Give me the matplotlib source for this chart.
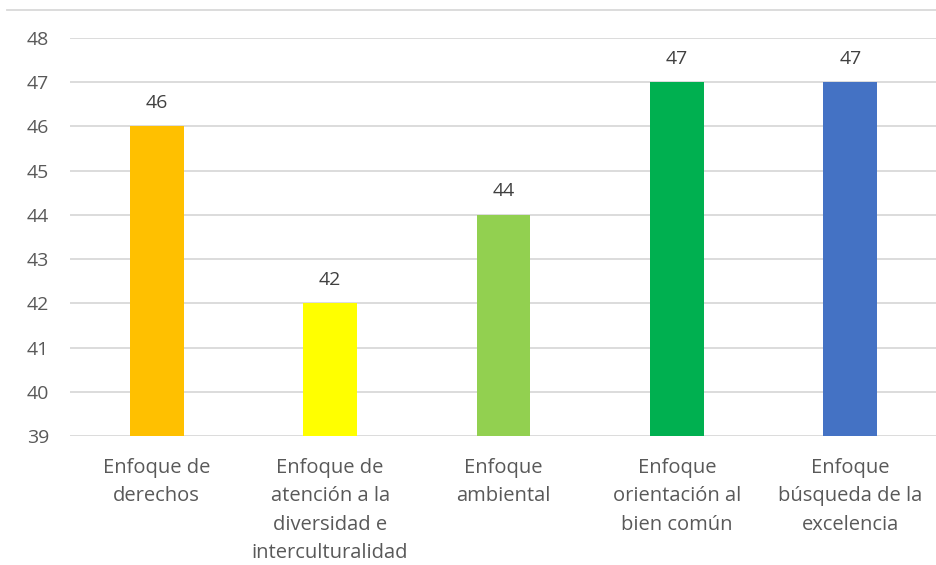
import matplotlib.pyplot as plt
from matplotlib.lines import Line2D

categories = ['Enfoque de\nderechos',
              'Enfoque de\natención a la\ndiversidad e\ninterculturalidad',
              'Enfoque\nambiental',
              'Enfoque\norientación al\nbien común',
              'Enfoque\nbúsqueda de la\nexcelencia']
values = [46, 42, 44, 47, 47]
colors = ['#FFC000', '#FFFF00', '#92D050', '#00B050', '#4472C4']
yticks = list(range(39, 49))

plt.rcParams['font.family'] = ['Open Sans', 'DejaVu Sans']

fig = plt.figure(figsize=(9.37, 5.65), dpi=100)
ax = fig.add_axes([70/937, 1 - 436/565, 1 - 70/937, (436 - 38)/565])

x = range(len(values))
ax.bar(x, [v - 39 for v in values], bottom=39, width=0.31, color=colors, zorder=3)
for xi, v in zip(x, values):
    ax.text(xi, v + 0.33, str(v), ha='center', va='bottom', fontsize=14, color='#404040')

ax.set_xlim(-0.5, 4.5)
ax.set_ylim(39, 48)
ax.set_yticks(yticks)
ax.set_yticklabels([str(t) for t in yticks], fontsize=14, color='#595959')
ax.set_xticks(list(x))
ax.set_xticklabels(categories, fontsize=14.5, color='#595959', linespacing=1.55)
ax.tick_params(axis='both', length=0)
ax.tick_params(axis='y', pad=15)
ax.tick_params(axis='x', pad=16)
ax.grid(axis='y', color='#D9D9D9', linewidth=1.3, zorder=0)
for s in ax.spines.values():
    s.set_visible(False)

fig.add_artist(Line2D([7/937, 1], [1 - 10/565, 1 - 10/565], color='#D9D9D9', linewidth=1.3))

fig.savefig('out.png', dpi=100)
